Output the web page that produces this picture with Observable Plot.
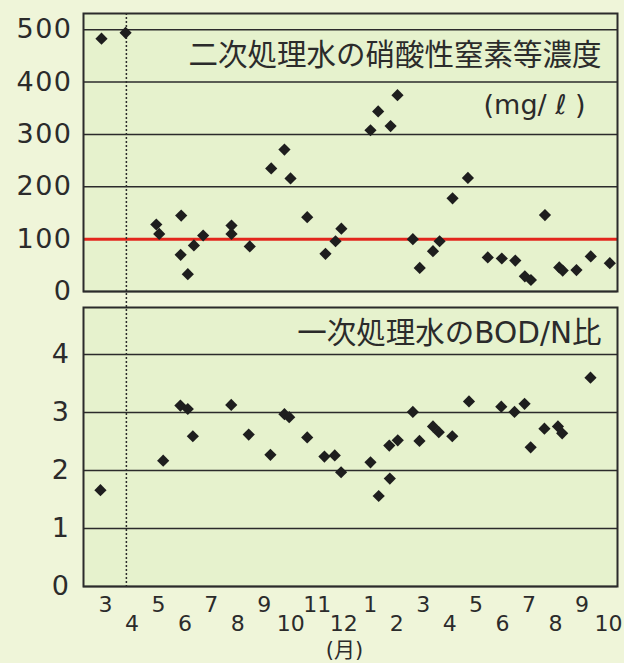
<!DOCTYPE html>
<html><head><meta charset="utf-8">
<script src="https://cdn.jsdelivr.net/npm/d3@7"></script>
<script src="https://cdn.jsdelivr.net/npm/@observablehq/plot@0.6"></script>
<style>
html,body{margin:0;padding:0;background:#eff5d9;}
#chart{width:624px;height:663px;overflow:hidden}
#chart svg{display:block;overflow:visible}
#chart g[aria-label="y-axis tick label"] text{letter-spacing:1.5px}
</style></head><body><div id="chart"></div>
<script>
// x positions are month slots: 0 = first "3" label, 19 = last "10" label
const monthLabels = [3,4,5,6,7,8,9,10,11,12,1,2,3,4,5,6,7,8,9,10];
const nitrateX = [-0.15,0.76,1.92,2.03,2.86,2.84,3.11,3.34,3.69,4.76,4.76,5.45,6.26,6.76,6.99,7.62,8.31,8.69,8.91,10.01,10.30,10.77,11.03,11.61,11.87,12.37,12.62,13.11,13.69,14.44,14.97,15.48,15.84,16.07,16.60,17.14,17.27,17.79,18.33,19.05];
const nitrateY = [483,494,128,110,145,70,33,88,107,126,110,86,235,271,216,142,72,96,120,308,344,316,375,100,45,77,96,178,217,65,63,59,29,22,146,46,40,41,67,54];
const bodX = [-0.19,2.18,2.83,3.11,3.30,4.75,5.41,6.23,6.76,6.94,7.62,8.27,8.66,8.90,10.01,10.32,10.74,10.72,11.04,11.61,11.86,12.37,12.59,13.10,13.73,14.95,15.45,15.83,16.06,16.58,17.09,17.25,18.32];
const bodY = [1.66,2.17,3.12,3.06,2.59,3.13,2.62,2.27,2.97,2.92,2.57,2.24,2.26,1.97,2.14,1.56,1.86,2.43,2.52,3.01,2.51,2.76,2.66,2.59,3.19,3.10,3.01,3.15,2.40,2.72,2.76,2.64,3.60];
const nitrateTicks = [0,100,200,300,400,500];
const bodTicks = [0,1,2,3,4];
const referenceLevel = 100;
const markerMonth = 0.79;
const topTitle = "二次処理水の硝酸性窒素等濃度";
const unitLabel = "(mg/ ℓ )";
const bottomTitle = "一次処理水のBOD/N比";
const xUnit = "(月)";

const nitrate = nitrateX.map((x, i) => ({x, y: nitrateY[i]}));
const bod = bodX.map((x, i) => ({x, y: bodY[i]}));

const innerBg = "#e6f2cd";
const ink = "#2b2b2b";
const font = "DejaVu Sans, Noto Sans CJK JP, sans-serif";
const xDomain = [-0.83, 19.34];

const topPlot = Plot.plot({
  width: 624, height: 297,
  marginLeft: 83, marginRight: 7, marginTop: 13, marginBottom: 6,
  style: {background: "transparent", fontFamily: font, color: ink, overflow: "visible"},
  x: {domain: xDomain, axis: null},
  y: {domain: [0, 531], axis: null},
  marks: [
    Plot.frame({fill: innerBg}),
    Plot.gridY(nitrateTicks, {stroke: ink, strokeOpacity: 1, strokeWidth: 1.5}),
    Plot.ruleY([referenceLevel], {stroke: "#e3261c", strokeWidth: 3}),
    Plot.ruleX([markerMonth], {stroke: ink, strokeWidth: 1.5, strokeDasharray: "2,2", insetBottom: -6}),
    Plot.axisY(nitrateTicks, {tickSize: 0, tickPadding: 11, fontSize: 27, fill: ink, label: null, tickFormat: d => String(d)}),
    Plot.dot(nitrate, {x: "x", y: "y", symbol: "diamond2", r: 5.5, fill: "#1e1e1e"}),
    Plot.frame({stroke: ink, strokeWidth: 2}),
    Plot.text([topTitle], {frameAnchor: "top-right", dx: -16, dy: 42, text: d => d, textAnchor: "end", lineAnchor: "middle", fontSize: 29.5, fill: ink}),
    Plot.text([unitLabel], {frameAnchor: "top-right", dx: -32, dy: 92, text: d => d, textAnchor: "end", lineAnchor: "middle", fontSize: 27, fill: ink})
  ]
});

const bottomPlot = Plot.plot({
  width: 624, height: 366,
  marginLeft: 83, marginRight: 7, marginTop: 10, marginBottom: 77,
  style: {background: "transparent", fontFamily: font, color: ink, overflow: "visible"},
  x: {domain: xDomain, axis: null},
  y: {domain: [0, 4.81], axis: null},
  marks: [
    Plot.frame({fill: innerBg}),
    Plot.gridY(bodTicks, {stroke: ink, strokeOpacity: 1, strokeWidth: 1.5}),
    Plot.ruleX([markerMonth], {stroke: ink, strokeWidth: 1.5, strokeDasharray: "2,2", insetTop: -10, insetBottom: -3}),
    Plot.axisY(bodTicks, {tickSize: 0, tickPadding: 13, fontSize: 27, fill: ink, label: null, tickFormat: d => String(d)}),
    Plot.axisX(d3.range(0, 20, 2), {tickSize: 0, tickPadding: 10, fontSize: 22, fill: ink, tickFormat: i => monthLabels[i], label: null}),
    Plot.axisX(d3.range(1, 20, 2), {tickSize: 0, tickPadding: 29, fontSize: 22, fill: ink, tickFormat: i => monthLabels[i], label: null}),
    Plot.dot(bod, {x: "x", y: "y", symbol: "diamond2", r: 5.5, fill: "#1e1e1e"}),
    Plot.frame({stroke: ink, strokeWidth: 2}),
    Plot.text([bottomTitle], {frameAnchor: "top-right", dx: -16, dy: 26, text: d => d, textAnchor: "end", lineAnchor: "middle", fontSize: 29.5, fill: ink}),
    Plot.text([xUnit], {frameAnchor: "bottom", dx: -6, dy: 64, text: d => d, lineAnchor: "middle", fontSize: 21, fill: ink})
  ]
});

const root = document.getElementById("chart");
root.appendChild(topPlot);
root.appendChild(bottomPlot);
</script>
</body></html>
